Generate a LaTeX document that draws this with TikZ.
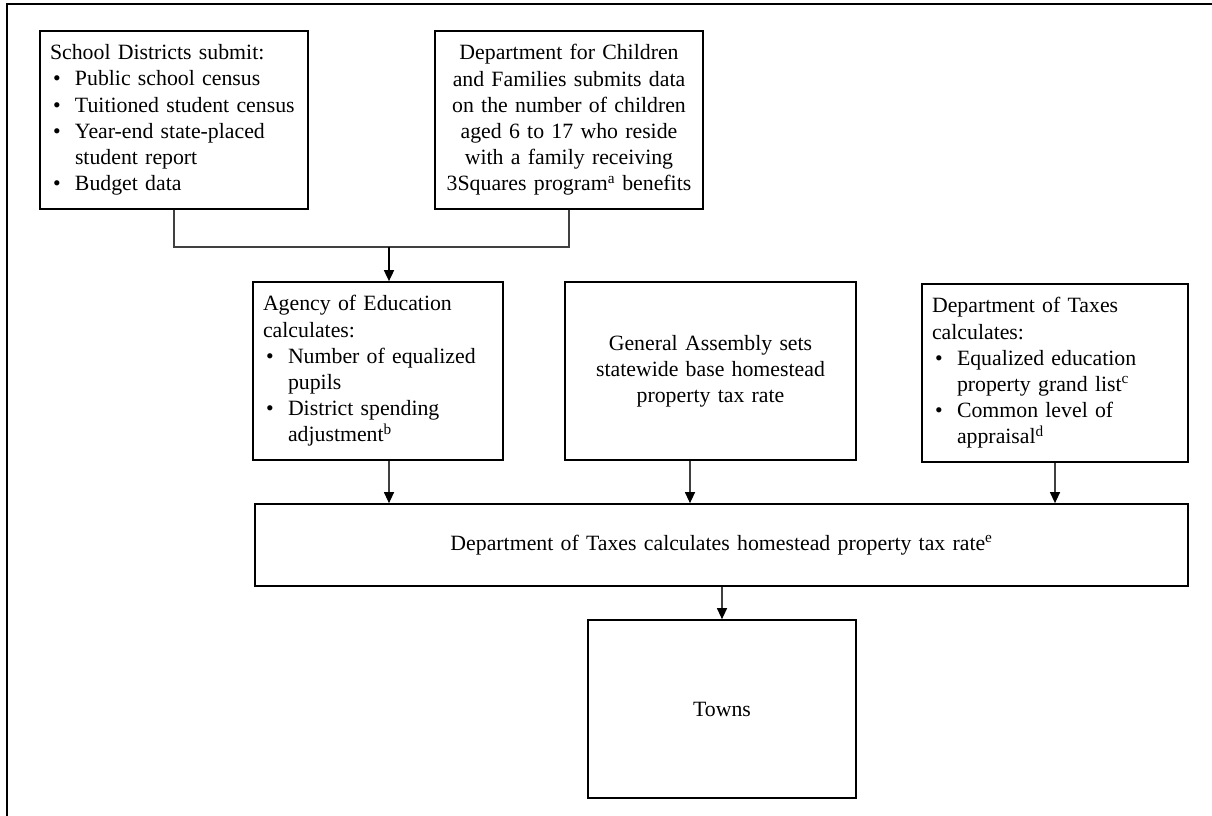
\documentclass[tikz,border=0pt]{standalone}
\usepackage{fontspec}
\setmainfont{Liberation Serif}
\usetikzlibrary{arrows.meta}
\newcommand\bitem{\makebox[25pt][l]{\hspace{3pt}\textbullet}}
\newcommand\bcont{\hspace*{25pt}}
\begin{document}
\begin{tikzpicture}[x=1pt,y=-1pt,
  box/.style={draw=black,line width=1.7pt,inner xsep=10pt,inner ysep=0pt,
    font=\fontsize{21.8}{26.2}\selectfont,anchor=center,minimum height=178pt},
  conn/.style={draw=black!75,line width=1.2pt},
  arr/.style={conn,-{Triangle[length=11pt,width=10pt,fill=black,color=black]}},
]
\useasboundingbox (0,0) rectangle (1212,816);
\draw[line width=2.4pt] (7,830) -- (7,4) -- (1230,4);

\node[box,text width=248pt,align=left] (sd) at (174,120)
  {School Districts submit:\\
   \bitem Public school census\\
   \bitem Tuitioned student census\\
   \bitem Year-end state-placed\\
   \bcont student report\\
   \bitem Budget data};

\node[box,text width=248pt,align=center] (dcf) at (569,120)
  {Department for Children\\
   and Families submits data\\
   on the number of children\\
   aged 6 to 17 who reside\\
   with a family receiving\\
   3Squares program\textsuperscript{a} benefits};

\node[box,text width=230pt,align=left] (aoe) at (378,371)
  {Agency of Education\\
   calculates:\\
   \bitem Number of equalized\\
   \bcont pupils\\
   \bitem District spending\\
   \bcont adjustment\textsuperscript{b}};

\node[box,text width=271pt,align=center] (ga) at (710.5,371)
  {General Assembly sets\\
   statewide base homestead\\
   property tax rate};

\node[box,text width=246pt,align=left] (dot) at (1055,373)
  {Department of Taxes\\
   calculates:\\
   \bitem Equalized education\\
   \bcont property grand list\textsuperscript{c}\\
   \bitem Common level of\\
   \bcont appraisal\textsuperscript{d}};

\node[box,text width=913pt,align=center,minimum height=82pt] (big) at (721.5,545)
  {Department of Taxes calculates homestead property tax rate\textsuperscript{e}};

\node[box,text width=248pt,align=center] (towns) at (722,709) {Towns};

\coordinate (jn) at (389,247);
\draw[conn] (sd.south) |- (jn) -| (dcf.south);
\draw[arr,draw=black,line width=1.7pt] (jn) -- (jn |- aoe.north);
\draw[arr] ([xshift=11pt]aoe.south) -- ([xshift=11pt]aoe.south |- big.north);
\draw[arr] ([xshift=-20.5pt]ga.south) -- ([xshift=-20.5pt]ga.south |- big.north);
\draw[arr] (dot.south) -- (dot.south |- big.north);
\draw[arr] (big.south -| towns.north) -- (towns.north);
\end{tikzpicture}
\end{document}
